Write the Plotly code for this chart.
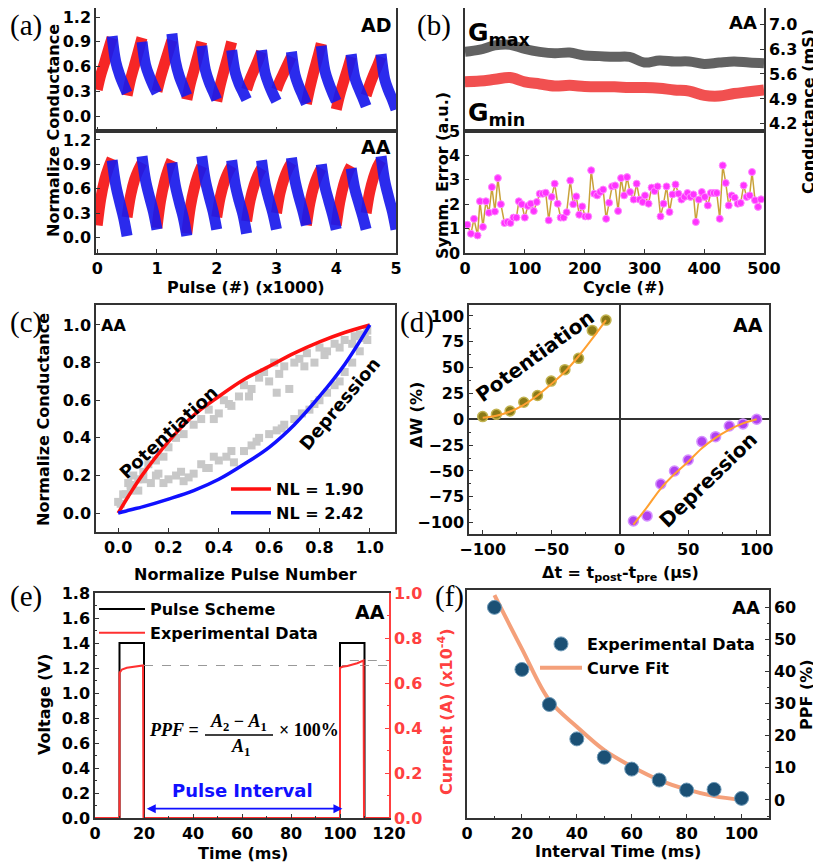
import plotly.graph_objects as go

# page is 821x865; the html body has an 8px margin, so the figure is drawn 8px in
OFF = 8
W, H = 821 - OFF, 865 - OFF
def px(x): return (x - OFF) / W
def py(y): return 1 - (y - OFF) / H

SANS = "DejaVu Sans, Arial, sans-serif"
SERIF = "Liberation Serif, Times New Roman, serif"

# ------------------------- DATA -------------------------
# (a) pulse cycles; keypoints read per half cycle
cycle_starts = [0, 500, 1000, 1500, 2000, 2500, 3000, 3500, 4000, 4500]
rise_offsets = [0, 60, 125, 190, 250]
fall_offsets = [250, 310, 375, 440, 500]
AD_red = [[0.32, 0.50, 0.65, 0.81, 0.95], [0.25, 0.45, 0.62, 0.79, 0.95],
          [0.30, 0.47, 0.63, 0.78, 0.92], [0.20, 0.40, 0.57, 0.74, 0.90],
          [0.18, 0.38, 0.56, 0.73, 0.90], [0.32, 0.45, 0.56, 0.67, 0.78],
          [0.32, 0.43, 0.53, 0.63, 0.72], [0.15, 0.35, 0.54, 0.71, 0.88],
          [0.08, 0.26, 0.42, 0.57, 0.72], [0.25, 0.38, 0.50, 0.61, 0.72]]
AD_blue = [[0.97, 0.66, 0.50, 0.38, 0.28], [0.90, 0.62, 0.48, 0.37, 0.28],
           [1.00, 0.66, 0.48, 0.36, 0.25], [0.85, 0.56, 0.41, 0.30, 0.20],
           [0.80, 0.53, 0.39, 0.29, 0.20], [0.80, 0.52, 0.38, 0.27, 0.18],
           [0.78, 0.50, 0.36, 0.25, 0.15], [0.85, 0.55, 0.40, 0.28, 0.18],
           [0.75, 0.47, 0.34, 0.23, 0.12], [0.75, 0.45, 0.31, 0.20, 0.08]]
AA_red = [[0.15, 0.48, 0.71, 0.86, 0.97], [0.25, 0.52, 0.71, 0.83, 0.92],
          [0.12, 0.45, 0.68, 0.84, 0.95], [0.05, 0.38, 0.61, 0.77, 0.88],
          [0.25, 0.50, 0.68, 0.80, 0.88], [0.20, 0.46, 0.64, 0.77, 0.85],
          [0.30, 0.55, 0.72, 0.84, 0.92], [0.15, 0.43, 0.63, 0.76, 0.85],
          [0.15, 0.44, 0.65, 0.79, 0.88], [0.30, 0.56, 0.74, 0.87, 0.95]]
AA_blue = [[0.95, 0.65, 0.44, 0.25, 0.02], [1.00, 0.70, 0.50, 0.32, 0.10],
           [0.92, 0.63, 0.43, 0.25, 0.02], [1.00, 0.70, 0.50, 0.32, 0.10],
           [0.95, 0.65, 0.45, 0.28, 0.05], [0.95, 0.66, 0.47, 0.30, 0.10],
           [0.98, 0.70, 0.50, 0.33, 0.15], [0.90, 0.63, 0.45, 0.28, 0.10],
           [0.85, 0.60, 0.43, 0.27, 0.10], [1.00, 0.70, 0.50, 0.32, 0.10]]

# (b) Gmax / Gmin (mS) vs cycle, symmetry error
g_cycles = [0, 25, 50, 75, 100, 125, 150, 175, 200, 225, 250, 275, 300, 325, 350, 375, 400, 425, 450, 475, 500]
g_max = [6.22, 6.28, 6.40, 6.42, 6.30, 6.22, 6.18, 6.20, 6.12, 6.10, 6.08, 6.08, 5.92, 5.98, 5.95, 5.95, 5.88, 5.92, 5.95, 5.92, 5.90]
g_min = [5.38, 5.40, 5.45, 5.50, 5.38, 5.32, 5.26, 5.28, 5.25, 5.24, 5.24, 5.22, 5.22, 5.20, 5.15, 5.12, 5.00, 4.98, 5.05, 5.10, 5.15]
se_cycle = [4, 10, 15, 21, 25, 30, 35, 40, 45, 50, 55, 60, 66, 71, 76, 81, 86, 90, 95, 100,
            105, 110, 115, 120, 125, 130, 135, 140, 145, 150, 155, 160, 165, 170, 176, 181, 186, 191, 196, 201,
            206, 211, 216, 221, 226, 231, 236, 241, 246, 251, 256, 261, 266, 271, 276, 282, 287, 292, 297, 301,
            307, 312, 317, 322, 327, 332, 337, 342, 347, 352, 357, 362, 367, 372, 377, 382, 386, 391, 396, 401,
            406, 411, 416, 421, 426, 431, 436, 441, 446, 451, 456, 461, 466, 471, 476, 480, 485, 490, 495]
se_val = [1.16, 0.79, 1.40, 0.72, 2.12, 1.07, 2.12, 1.65, 2.70, 1.70, 3.07, 2.00, 1.23, 1.27, 1.23, 1.45, 1.45, 2.12, 2.00, 1.45,
          1.93, 2.02, 1.72, 2.09, 2.43, 2.43, 2.47, 1.34, 2.30, 2.84, 2.02, 1.45, 1.45, 1.67, 2.97, 2.00, 2.32, 1.57, 1.91, 1.50,
          1.50, 3.39, 2.43, 2.36, 2.50, 2.60, 1.40, 2.06, 2.73, 2.77, 1.72, 3.07, 2.36, 3.11, 2.50, 2.19, 2.84, 2.19, 2.09, 2.36,
          2.02, 2.68, 2.54, 2.73, 1.50, 2.02, 2.73, 1.68, 2.40, 2.81, 2.43, 2.19, 2.30, 2.46, 2.30, 2.40, 1.27, 2.19, 2.50, 2.30,
          1.95, 2.46, 2.46, 2.46, 1.40, 3.59, 2.87, 1.95, 2.36, 2.27, 2.02, 2.05, 2.77, 2.30, 2.36, 3.32, 2.16, 1.89, 2.20]

# (c) normalized potentiation / depression
nl_x = [0.0, 0.05, 0.1, 0.2, 0.3, 0.4, 0.5, 0.6, 0.7, 0.8, 0.9, 1.0]
nl_pot = [0.0, 0.11, 0.21, 0.38, 0.52, 0.62, 0.71, 0.78, 0.85, 0.91, 0.96, 1.0]
nl_dep = [0.0, 0.018, 0.035, 0.075, 0.12, 0.18, 0.26, 0.35, 0.47, 0.62, 0.79, 1.0]
exp_x = [0.01, 0.02, 0.04, 0.05, 0.06, 0.08, 0.10, 0.12, 0.15, 0.18, 0.20, 0.23, 0.26, 0.30, 0.33, 0.36, 0.40, 0.42,
         0.45, 0.48, 0.50, 0.53, 0.56, 0.60, 0.62, 0.63, 0.66, 0.68, 0.72, 0.75, 0.78, 0.80, 0.83, 0.86, 0.90, 0.93,
         0.96, 0.98, 0.99, 0.38, 0.44, 0.52, 0.58, 0.64, 0.70, 0.74, 0.82, 0.88, 0.94,
         0.00, 0.03, 0.05, 0.08, 0.10, 0.13, 0.16, 0.20, 0.23, 0.26, 0.30, 0.33, 0.36, 0.40, 0.43, 0.46, 0.50, 0.53,
         0.56, 0.60, 0.63, 0.66, 0.70, 0.73, 0.76, 0.80, 0.83, 0.86, 0.90, 0.93, 0.96, 0.99,
         0.15, 0.18, 0.25, 0.28, 0.35, 0.38, 0.45, 0.55, 0.65, 0.78, 0.88]
exp_y = [0.05, 0.10, 0.16, 0.12, 0.20, 0.18, 0.22, 0.26, 0.28, 0.30, 0.35, 0.40, 0.42, 0.47, 0.50, 0.55, 0.53, 0.60,
         0.57, 0.62, 0.68, 0.66, 0.72, 0.70, 0.80, 0.64, 0.78, 0.66, 0.82, 0.85, 0.80, 0.88, 0.86, 0.90, 0.92, 0.90,
         0.95, 0.93, 0.97, 0.50, 0.58, 0.62, 0.75, 0.74, 0.80, 0.78, 0.84, 0.88, 0.94,
         0.06, 0.10, 0.15, 0.12, 0.18, 0.16, 0.21, 0.18, 0.20, 0.17, 0.21, 0.26, 0.24, 0.28, 0.30, 0.27, 0.33, 0.36,
         0.40, 0.42, 0.44, 0.47, 0.50, 0.53, 0.55, 0.60, 0.64, 0.68, 0.75, 0.80, 0.86, 0.92,
         0.20, 0.16, 0.22, 0.19, 0.24, 0.30, 0.33, 0.38, 0.45, 0.58, 0.70]

# (d) STDP
stdp_t_pot = [-100, -90, -80, -70, -60, -50, -40, -30, -20, -10]
stdp_w_pot = [2.6, 4.8, 8, 16.5, 23, 37, 48, 59, 86, 96]
fit_w_pot = [1.5, 3.5, 7.5, 14, 23, 34, 46, 61, 78, 96]
stdp_t_dep = [10, 20, 30, 40, 50, 60, 70, 80, 90, 100]
stdp_w_dep = [-98.4, -93.5, -62.6, -50, -39.4, -21.6, -16.8, -6.5, -4.5, 0]
fit_w_dep = [-102, -85, -67, -53, -41, -28, -18, -10, -4, 0]

# (e) paired pulse
pulse_t = [0, 10, 10, 20, 20, 100, 100, 110, 110, 120]
pulse_v = [0, 0, 1.4, 1.4, 0, 0, 1.4, 1.4, 0, 0]
curr_t = [0, 10, 10, 11, 13, 15, 17, 19.6, 19.8, 100, 100, 101, 103, 105, 107, 109.6, 109.8, 120]
curr_i = [0, 0, 0.645, 0.660, 0.668, 0.672, 0.675, 0.678, 0, 0, 0.667, 0.672, 0.676, 0.682, 0.688, 0.700, 0, 0]
ref_levels_v = [1.22, 1.26]
ref_start_t = [20, 104]

# (f) PPF vs interval
ppf_t = [10, 20, 30, 40, 50, 60, 70, 80, 90, 100]
ppf_val = [59.9, 40.6, 29.7, 19.0, 13.3, 9.6, 6.2, 3.1, 3.3, 0.5]
ppf_fit = [63.7, 47.0, 31.0, 22.8, 15.5, 10.4, 6.2, 3.3, 1.2, 0.0]

# ------------------------- FIGURE -------------------------
fig = go.Figure()

def segs(starts, offsets, vals):
    xs, ys = [], []
    for s, v in zip(starts, vals):
        xs += [(s + o) / 1000 for o in offsets] + [None]
        ys += list(v) + [None]
    return xs, ys

band_w = 11
for xa, ya, red, blue in [("x", "y", AD_red, AD_blue), ("x2", "y2", AA_red, AA_blue)]:
    x, y = segs(cycle_starts, rise_offsets, red)
    fig.add_trace(go.Scatter(x=x, y=y, xaxis=xa, yaxis=ya, mode="lines",
                             line=dict(color="rgba(245,20,20,0.92)", width=band_w, shape="spline"), showlegend=False))
    x, y = segs(cycle_starts, fall_offsets, blue)
    fig.add_trace(go.Scatter(x=x, y=y, xaxis=xa, yaxis=ya, mode="lines",
                             line=dict(color="rgba(25,25,235,0.92)", width=band_w, shape="spline"), showlegend=False))

# (b)
fig.add_trace(go.Scatter(x=g_cycles, y=g_max, xaxis="x3", yaxis="y3", mode="lines",
                         line=dict(color="rgba(85,85,85,0.92)", width=10, shape="spline"), showlegend=False))
fig.add_trace(go.Scatter(x=g_cycles, y=g_min, xaxis="x3", yaxis="y3", mode="lines",
                         line=dict(color="rgba(240,65,65,0.92)", width=11, shape="spline"), showlegend=False))
fig.add_trace(go.Scatter(x=se_cycle, y=se_val, xaxis="x4", yaxis="y4", mode="lines+markers",
                         line=dict(color="#C9A23A", width=1.5),
                         marker=dict(color="#FF33FF", size=7, line=dict(color="#FF88FF", width=1)), showlegend=False))

# (c)
fig.add_trace(go.Scatter(x=exp_x, y=exp_y, xaxis="x5", yaxis="y5", mode="markers",
                         marker=dict(color="#C8C8C8", size=8, symbol="square"), showlegend=False))
fig.add_trace(go.Scatter(x=nl_x, y=nl_pot, xaxis="x5", yaxis="y5", mode="lines", name="NL = 1.90",
                         line=dict(color="#FF1010", width=3.5, shape="spline"), legend="legend2"))
fig.add_trace(go.Scatter(x=nl_x, y=nl_dep, xaxis="x5", yaxis="y5", mode="lines", name="NL = 2.42",
                         line=dict(color="#1010FF", width=3.5, shape="spline"), legend="legend2"))

# (d)
fig.add_trace(go.Scatter(x=stdp_t_pot, y=stdp_w_pot, xaxis="x6", yaxis="y6", mode="markers",
                         marker=dict(color="#8A7A18", size=10, line=dict(color="#C2B350", width=1.5)), showlegend=False))
fig.add_trace(go.Scatter(x=stdp_t_dep, y=stdp_w_dep, xaxis="x6", yaxis="y6", mode="markers",
                         marker=dict(color="#B040F0", size=10, line=dict(color="#D590FF", width=1.5)), showlegend=False))
fig.add_trace(go.Scatter(x=stdp_t_pot, y=fit_w_pot, xaxis="x6", yaxis="y6", mode="lines",
                         line=dict(color="#FFA030", width=2, shape="spline"), showlegend=False))
fig.add_trace(go.Scatter(x=stdp_t_dep, y=fit_w_dep, xaxis="x6", yaxis="y6", mode="lines",
                         line=dict(color="#FFA030", width=2, shape="spline"), showlegend=False))

# (e)
fig.add_trace(go.Scatter(x=pulse_t, y=pulse_v, xaxis="x7", yaxis="y7", mode="lines", name="Pulse Scheme",
                         line=dict(color="black", width=2), legend="legend"))
fig.add_trace(go.Scatter(x=curr_t, y=curr_i, xaxis="x7", yaxis="y8", mode="lines", name="Experimental Data",
                         line=dict(color="#FF3030", width=2), legend="legend"))
for lv, ts in zip(ref_levels_v, ref_start_t):
    fig.add_trace(go.Scatter(x=[ts, 120], y=[lv, lv], xaxis="x7", yaxis="y7", mode="lines",
                             line=dict(color="#999999", width=1.2, dash="dash"), showlegend=False))

# (f)
fig.add_trace(go.Scatter(x=ppf_t, y=ppf_fit, xaxis="x8", yaxis="y9", mode="lines", name="Curve Fit",
                         line=dict(color="#F4A07A", width=4, shape="spline"), legend="legend3"))
fig.add_trace(go.Scatter(x=ppf_t, y=ppf_val, xaxis="x8", yaxis="y9", mode="markers", name="Experimental Data",
                         marker=dict(color="#1B5075", size=14, line=dict(color="#6E9AB8", width=1)), legend="legend3"))

# ------------------------- AXES -------------------------
tf = dict(family=SANS, size=16, color="black", weight="bold")
def ax(**kw):
    d = dict(showline=True, linecolor="#333333", linewidth=1.5, mirror=True, ticks="inside",
             ticklen=4, tickwidth=1.2, tickcolor="#333333", showgrid=False, zeroline=False, tickfont=tf,
             automargin=False, ticklabeloverflow="allow")
    d.update(kw)
    return d

def dx(a, b): return [px(a), px(b)]
def dy(top, bot): return [py(bot), py(top)]

mn = lambda d: dict(ticks="inside", ticklen=2.5, dtick=d, tickcolor="#333333", tickwidth=1)
ya_ticks = dict(tickvals=[0, 0.3, 0.6, 0.9, 1.2], tickformat=".1f")
fig.update_layout(
    xaxis=ax(domain=dx(96, 396), anchor="y", range=[-0.02, 5], showticklabels=False, tickvals=[0, 1, 2, 3, 4, 5]),
    yaxis=ax(domain=dy(8, 131), anchor="x", range=[-0.18, 1.31], **ya_ticks),
    xaxis2=ax(domain=dx(96, 396), anchor="y2", range=[-0.02, 5], tickvals=[0, 1, 2, 3, 4, 5]),
    yaxis2=ax(domain=dy(131, 253), anchor="x2", range=[-0.19, 1.31], **ya_ticks),

    xaxis3=ax(domain=dx(465, 764), anchor="y3", range=[0, 500], showticklabels=False, ticks=""),
    yaxis3=ax(domain=dy(8, 131), anchor="x3", side="right", range=[4.0, 7.45],
              tickvals=[4.2, 4.9, 5.6, 6.3, 7.0], tickformat=".1f"),
    xaxis4=ax(domain=dx(465, 764), anchor="y4", range=[0, 500], tickvals=[0, 100, 200, 300, 400, 500]),
    yaxis4=ax(domain=dy(131, 253), anchor="x4", range=[0, 5], tickvals=[0, 1, 2, 3, 4, 5]),

    xaxis5=ax(domain=dx(96, 395), anchor="y5", range=[-0.088, 1.1], tickvals=[0, 0.2, 0.4, 0.6, 0.8, 1.0], tickformat=".1f"),
    yaxis5=ax(domain=dy(305, 532), anchor="x5", range=[-0.1, 1.106], tickvals=[0, 0.2, 0.4, 0.6, 0.8, 1.0], tickformat=".1f"),

    xaxis6=ax(domain=dx(469, 769), anchor="y6", range=[-110, 109], tickvals=[-100, -50, 0, 50, 100],
              zeroline=True, zerolinecolor="#333333", zerolinewidth=1.5, minor=mn(25)),
    yaxis6=ax(domain=dy(305, 534), anchor="x6", range=[-111, 110.6], tickvals=[-100, -75, -50, -25, 0, 25, 50, 75, 100],
              zeroline=True, zerolinecolor="#333333", zerolinewidth=1.5, minor=mn(12.5)),

    xaxis7=ax(domain=dx(95, 389), anchor="y7", range=[0, 120], tickvals=[0, 20, 40, 60, 80, 100, 120], minor=mn(10)),
    yaxis7=ax(domain=dy(593, 818), anchor="x7", range=[0, 1.8], mirror=False,
              tickvals=[0, 0.2, 0.4, 0.6, 0.8, 1.0, 1.2, 1.4, 1.6, 1.8], tickformat=".1f", minor=mn(0.1)),
    yaxis8=ax(domain=dy(593, 818), anchor="x7", overlaying="y7", side="right", range=[0, 1.0], mirror=False,
              linecolor="#FF4040", tickcolor="#FF4040", tickvals=[0, 0.2, 0.4, 0.6, 0.8, 1.0], tickformat=".1f",
              tickfont=dict(family=SANS, size=16, color="#FF4040", weight="bold"),
              minor=dict(ticks="inside", ticklen=2.5, dtick=0.1, tickcolor="#FF4040")),

    xaxis8=ax(domain=dx(467, 769), anchor="y9", range=[0, 110], tickvals=[0, 20, 40, 60, 80, 100], minor=mn(10)),
    yaxis9=ax(domain=dy(590, 818), anchor="x8", side="right", range=[-5.6, 65.3], tickvals=[0, 10, 20, 30, 40, 50, 60],
              minor=mn(5)),
)

# ------------------------- LEGENDS -------------------------
lf = dict(family=SANS, size=16, color="black", weight="bold")
fig.update_layout(
    legend=dict(x=px(94), y=py(592), xanchor="left", yanchor="top", bgcolor="rgba(0,0,0,0)", font=lf,
                itemwidth=46, tracegroupgap=0),
    legend2=dict(x=px(226), y=py(472), xanchor="left", yanchor="top", bgcolor="rgba(0,0,0,0)", font=lf, itemwidth=40),
    legend3=dict(x=px(535), y=py(627), xanchor="left", yanchor="top", bgcolor="rgba(0,0,0,0)", font=lf,
                 itemwidth=42, traceorder="reversed"),
)

# ------------------------- ANNOTATIONS -------------------------
ann = []
def T(text, x, y, size=16, angle=0, color="black", family=SANS, weight="bold", xanchor="center", yanchor="middle"):
    ann.append(dict(text=text, x=px(x), y=py(y), xref="paper", yref="paper", showarrow=False,
                    textangle=angle, xanchor=xanchor, yanchor=yanchor,
                    font=dict(family=family, size=size, color=color, weight=weight)))

# panel labels
for lab, x, y in [("(a)", 26, 25), ("(b)", 434, 25), ("(c)", 26, 322), ("(d)", 417, 322),
                  ("(e)", 26, 596), ("(f)", 450, 596)]:
    T(lab, x, y, size=29, family=SERIF, weight="normal")

# (a)
T("AD", 393, 25, size=19, xanchor="right")
T("AA", 393, 147, size=19, xanchor="right")
T("Normalize Conductance", 54, 131, size=16, angle=-90)
T("Pulse (#) (x1000)", 246, 287, size=16)
# (b)
T("G<sub>max</sub>", 466, 34, size=25, xanchor="left")
T("G<sub>min</sub>", 466, 114, size=25, xanchor="left")
T("AA", 759, 23, size=18, xanchor="right")
T("Symm. Error (a.u.)", 442, 176, size=16, angle=-90)
T("Conductance (mS)", 808, 112, size=16, angle=-90)
T("Cycle (#)", 624, 287, size=16)
# (c)
T("AA", 99, 325, size=16, xanchor="left")
T("Potentiation", 168, 432, size=18, angle=-43)
T("Depression", 340, 404, size=18, angle=-50)
T("Normalize Conductance", 44, 420, size=16, angle=-90)
T("Normalize Pulse Number", 246, 574, size=16)
# (d)
T("AA", 765, 325, size=19, xanchor="right")
T("Potentiation", 535, 356, size=20, angle=-36)
T("Depression", 708, 480, size=20, angle=-44)
T("ΔW (%)", 416, 415, size=16, angle=-90)
T("Δt = t<sub>post</sub>-t<sub>pre</sub> (μs)", 620, 573, size=16)
# (e)
T("AA", 387, 612, size=19, xanchor="right")
T("Voltage (V)", 44, 705, size=16, angle=-90)
T("Current (A) (x10<sup>-4</sup>)", 445, 712, size=16, angle=-90, color="#FF4040")
T("Time (ms)", 243, 853, size=16)
T("Pulse Interval", 242, 790, size=18, color="#1010FF")
T("<i>PPF</i> =", 174, 730, size=18, family=SERIF)
T("<i>A</i><sub>2</sub> − <i>A</i><sub>1</sub>", 239, 722, size=18, family=SERIF)
T("<i>A</i><sub>1</sub>", 240, 747, size=18, family=SERIF)
T("× 100%", 309, 730, size=18, family=SERIF)
# (f)
T("AA", 762, 607, size=18, xanchor="right")
T("Interval Time (ms)", 618, 851, size=16)
T("PPF (%)", 806, 695, size=16, angle=-90)

# double arrow (pulse interval)
ann.append(dict(x=101, y=0.075, ax=20.5, ay=0.075, xref="x7", yref="y7", axref="x7", ayref="y7",
                showarrow=True, arrowhead=2, arrowside="end+start", arrowsize=1, arrowwidth=1.8,
                arrowcolor="#1010FF", text=""))

fig.update_layout(annotations=ann)
fig.add_shape(type="line", xref="paper", yref="paper", x0=px(205), x1=px(273), y0=py(735), y1=py(735),
              line=dict(color="black", width=1.3))

fig.update_layout(width=W, height=H, margin=dict(l=0, r=0, t=0, b=0, autoexpand=False),
                  paper_bgcolor="white", plot_bgcolor="white",
                  font=dict(family=SANS, size=16, color="black", weight="bold"))

fig.write_html("out.html")
